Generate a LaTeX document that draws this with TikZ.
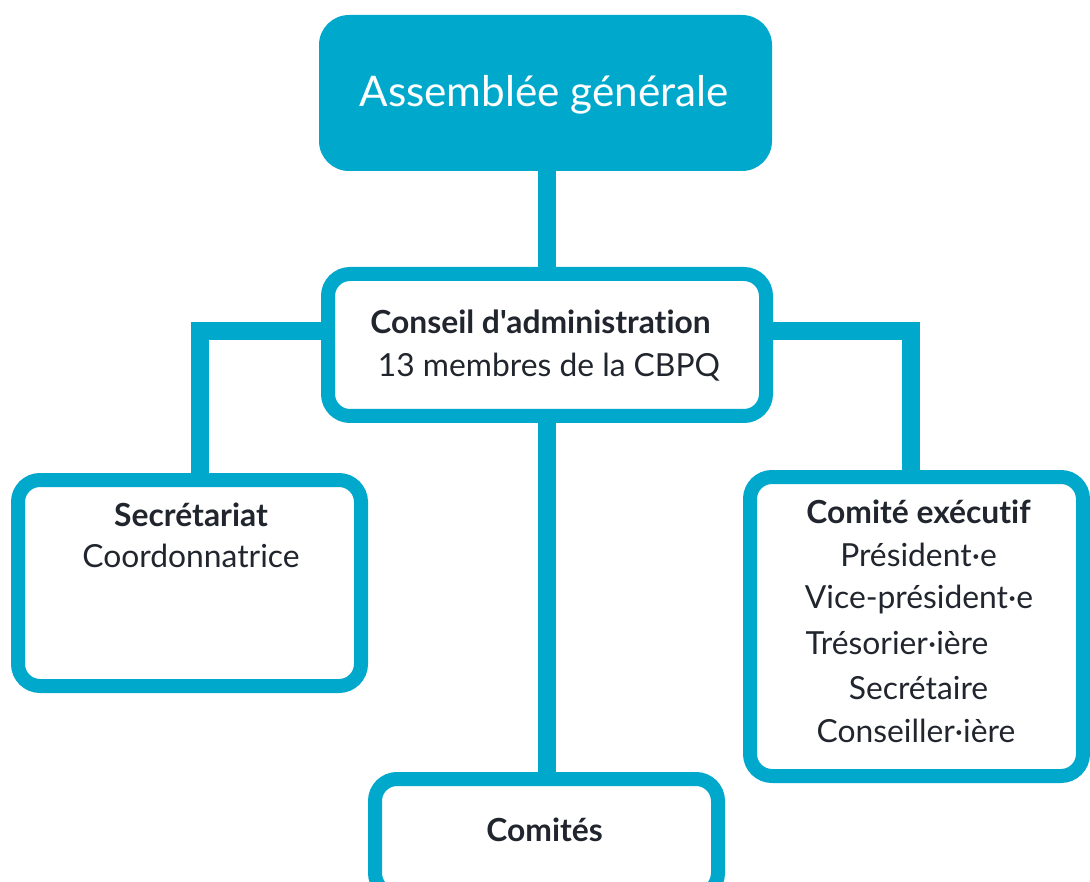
\documentclass[tikz,border=0pt]{standalone}
\usepackage{fontspec}
\setmainfont{Lato}
\newfontfamily\lato{Lato}[Ligatures=NoCommon]
\definecolor{cbleu}{RGB}{0,169,204}
\definecolor{ctxt}{RGB}{33,37,45}
\begin{document}
\begin{tikzpicture}[x=1pt,y=-1pt,
  box/.style={draw=cbleu,line width=14pt,fill=white,rounded corners=22pt,inner sep=0pt},
  topbox/.style={fill=cbleu,rounded corners=30pt,inner sep=0pt},
  conn/.style={draw=cbleu,line width=18pt},
  txt/.style={anchor=base,inner sep=0pt,text=ctxt,font=\lato\fontsize{31.8}{38}\selectfont},
  btxt/.style={txt,font=\lato\fontsize{31.8}{38}\selectfont\bfseries}]
\useasboundingbox (0,0) rectangle (1090,882);
% connectors
\coordinate (l) at (200,331);
\coordinate (r) at (911,331);
\node[topbox,minimum width=453pt,minimum height=156pt] (ag) at (545.5,93) {};
\node[box,minimum width=438pt,minimum height=142pt,draw=none,fill=none] (ca0) at (547,345) {};
\node[box,minimum width=343pt,minimum height=206pt,draw=none,fill=none] (sec0) at (189.5,583) {};
\node[box,minimum width=333pt,minimum height=299pt,draw=none,fill=none] (ce0) at (916.5,626.5) {};
\node[box,minimum width=343pt,minimum height=116pt,draw=none,fill=none] (com0) at (546.5,837) {};
\draw[conn] (ag.south -| ca0.north) -- (ca0.north);
\draw[conn] (ca0.west |- l) -| (l |- sec0.north);
\draw[conn] (ca0.east |- r) -| (r |- ce0.north);
\draw[conn] (ca0.south) -- (ca0.south |- com0.north);
% boxes
\node[box,minimum width=438pt,minimum height=142pt] (ca) at (547,345) {};
\node[box,minimum width=343pt,minimum height=206pt] (sec) at (189.5,583) {};
\node[box,minimum width=333pt,minimum height=299pt] (ce) at (916.5,626.5) {};
\node[box,minimum width=343pt,minimum height=116pt] (com) at (546.5,837) {};
% texts
\node[anchor=base,inner sep=0pt,text=white,font=\lato\fontsize{42.2}{50}\selectfont] (agt) at (544,107) {Assemblée générale};
\node[btxt] (cat1) at (540.5,334) {Conseil d'administration};
\node[txt] (cat2) at (549,377) {13 membres de la CBPQ};
\node[btxt] (sect1) at (191,526) {Secrétariat};
\node[txt] (sect2) at (191,567) {Coordonnatrice};
\node[btxt] (cet1) at (918.5,523) {Comité exécutif};
\node[txt] (cet2) at (918.5,566) {Président·e};
\node[txt] (cet3) at (919,608) {Vice-président·e};
\node[txt] (cet4) at (897,654) {Trésorier·ière};
\node[txt] (cet5) at (918.5,699) {Secrétaire};
\node[txt] (cet6) at (916,742) {Conseiller·ière};
\node[btxt] (comt) at (544.5,841) {Comités};
\end{tikzpicture}
\end{document}
